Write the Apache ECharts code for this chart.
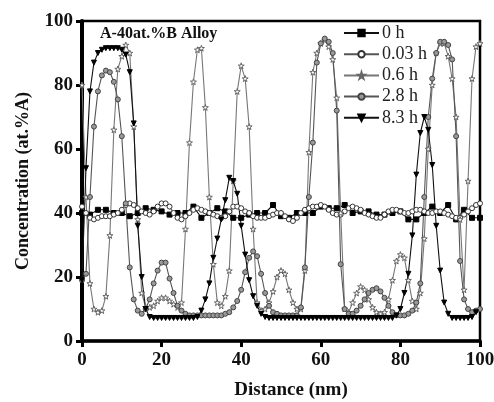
<!DOCTYPE html>
<html><head><meta charset="utf-8">
<script src="https://cdn.jsdelivr.net/npm/echarts@6/dist/echarts.min.js"></script>
<style>html,body{margin:0;padding:0;background:#fff}#c{width:494px;height:402px}</style>
</head><body><div id="c"></div>
<script>
// ---- data ----
const seriesNames = ['0 h', '0.03 h', '0.6 h', '2.8 h', '8.3 h'];
const xTicks = [0, 20, 40, 60, 80, 100];
const yTicks = [0, 20, 40, 60, 80, 100];
// distance grid for 0 h (every 2 nm)
const dist0h = [0,2,4,6,8,10,12,14,16,18,20,22,24,26,28,30,32,34,36,38,40,42,44,46,48,50,52,54,56,58,60,62,64,66,68,70,72,74,76,78,80,82,84,86,88,90,92,94,96,98,100];
const conc0h = [40,39.5,41,41,40,40,39,40,41.5,41,40.5,39.5,40,40,42,38.5,40,41.5,40.5,38.5,38.5,39.5,40,40,42.5,39,38.5,40,40,40,42,41.5,41.5,42.5,40,40.5,40.5,39.5,39.5,40,40.5,38,38,40,42,40,42.5,38,41,38.5,38.5];
// distance grid for other series (every 1 nm)
const dist = [0,1,2,3,4,5,6,7,8,9,10,11,12,13,14,15,16,17,18,19,20,21,22,23,24,25,26,27,28,29,30,31,32,33,34,35,36,37,38,39,40,41,42,43,44,45,46,47,48,49,50,51,52,53,54,55,56,57,58,59,60,61,62,63,64,65,66,67,68,69,70,71,72,73,74,75,76,77,78,79,80,81,82,83,84,85,86,87,88,89,90,91,92,93,94,95,96,97,98,99,100];
const conc003h = [42,40,38.5,38,38.5,39,39,39,39.5,40,41,42.5,43,42.5,41.5,40.5,40,39.5,40.5,42,43,43,42,40,38.5,38,39,40,41,41.5,41,40.5,40,39.5,39,38.5,39,40.5,42,42,41.5,40.5,40,39,38.5,38.5,38.5,39,39.5,40,40,39,38,37.5,38.5,40,41,41.5,42,42,42.5,42,41,40,39.5,39.5,40.5,41.5,42,41.5,41,40,39.5,39,38.5,38.5,39.5,40.5,41,41,40.5,40,40,40.5,41,41,40.5,40,40,40.5,40.5,40,39.5,39,38.5,38.5,39.5,40.5,41.5,42.5,43];
const conc06h = [80,45,18,10,9,9.5,14,33,66,85,89,92.5,90,67,38,15,10.5,10.5,11,12.5,13.5,13.5,12.5,11.5,10.5,12,35,62,81,91,91.5,73,45,24,12,11,14,22,50,78,86,82,67,35,12,9.5,10,12,15.5,20,22,21,16,12,10,10,22,59,84,90,93,94,92,88,76,40,10,9,12,15,17,16,13,10.5,9,8.5,9,13,19,25,27,26,19,12.5,10,15,32,60,80,90,93,93,89,82,70,38,16,50,82,92,93];
const conc28h = [19,21,45,67,78,83,84.5,84,81,75.5,64,43,23,13,9.5,8.5,10,13,18,22,24.5,24.5,19.5,15,11,9.5,8.5,8,8,8,8,8,8,8,8,8,8.5,9,10.5,12.5,16,21.5,26,28,26.5,21,15,11,9,8.5,8,8,8,8,8,10.5,23,45,62,87,93,94.5,93.5,90,72,24,10,8.5,8.5,9.5,11,13,15,16,16.5,15.5,13.5,11,9,8,8,8,8.5,9.5,12,18,45,70,82,90,93.5,93.5,92.5,88,64,25,13,10,9,9.5,10];
const conc83h = [19,54,78,87,90,91,91.5,91.5,91.5,91.5,91,89.5,84,68,36,20,10,7.5,7.2,7.2,7.2,7.2,7.2,7.2,7.2,7.2,7.2,7.2,7.2,7.5,9.5,13,18,26,32,38,44,51,50,46,36,27,19,14,11,8.5,7.5,7.2,7.2,7.2,7.2,7.2,7.2,7.2,7.2,7.2,7.2,7.2,7.2,7.2,7.2,7.2,7.2,7.2,7.2,7.2,7.2,7.2,7.2,7.2,7.2,7.2,7.2,7.2,7.2,7.2,7.2,7.2,7.2,8,10,15,21,33,52,65,70,66,55,36,22,12,8.5,7.2,7.2,7.2,7.2,7.2,7.5,9];
const annotation = 'A-40at.%B Alloy';
const xTitle = 'Distance (nm)';
const yTitle = 'Concentration (at.%A)';

// ---- chart ----
const pair = (xs, ys) => xs.map((x, i) => [x, ys[i]]);
const STAR = 'path://M50,0 L61,35 L98,35 L68,57 L79,91 L50,70 L21,91 L32,57 L2,35 L39,35 Z';
const serif = '"Liberation Serif", "DejaVu Serif", serif';

const chart = echarts.init(document.getElementById('c'), null, {renderer: 'canvas'});
const mk = (name, data, sym, size, fill, stroke, lineColor, extra) => Object.assign({
  name, type: 'line', data, symbol: sym, symbolSize: size, showSymbol: true,
  lineStyle: {color: lineColor, width: 1.1},
  itemStyle: {color: fill, borderColor: stroke, borderWidth: 1},
  emphasis: {disabled: true}, animation: false, z: 3
}, extra || {});

chart.setOption({
  animation: false,
  backgroundColor: '#fff',
  grid: {left: 82, right: 14, top: 21, bottom: 61, containLabel: false, outerBoundsMode: 'none',
    show: true, borderColor: '#000', borderWidth: 2.5, backgroundColor: 'transparent'},
  title: {text: annotation, left: 95, top: 21, textStyle: {fontFamily: serif, fontWeight: 'bold', fontSize: 16, color: '#111'}},
  legend: {
    orient: 'vertical', left: 338, top: 19, itemWidth: 35, itemHeight: 8, itemGap: 3.2,
    data: seriesNames,
    textStyle: {fontFamily: serif, fontSize: 18, color: '#222', padding: [0, 0, 0, -2], lineHeight: 18}
  },
  xAxis: {
    type: 'value', min: 0, max: 100, interval: 20,
    name: xTitle, nameLocation: 'middle', nameGap: 40,
    nameTextStyle: {fontFamily: serif, fontWeight: 'bold', fontSize: 19, color: '#111', padding: [0, 0, 0, 20]},
    axisLine: {show: true, lineStyle: {color: '#000', width: 3.5}},
    axisTick: {show: true, inside: false, length: 6, lineStyle: {color: '#000', width: 3}},
    axisLabel: {margin: 10, fontFamily: serif, fontWeight: 'bold', fontSize: 19, color: '#111',
      formatter: v => xTicks.includes(v) ? String(v) : ''},
    splitLine: {show: false}
  },
  yAxis: {
    type: 'value', min: 0, max: 100, interval: 20,
    name: yTitle, nameLocation: 'middle', nameGap: 50, nameRotate: 90,
    nameTextStyle: {fontFamily: serif, fontWeight: 'bold', fontSize: 18, color: '#111'},
    axisLine: {show: true, lineStyle: {color: '#000', width: 4}},
    axisTick: {show: true, inside: false, length: 6, lineStyle: {color: '#000', width: 3}},
    axisLabel: {margin: 9, fontFamily: serif, fontWeight: 'bold', fontSize: 19, color: '#111',
      formatter: v => yTicks.includes(v) ? String(v) : ''},
    splitLine: {show: false}
  },
  series: [
    mk(seriesNames[0], pair(dist0h, conc0h), 'rect', 5, '#000', '#000', '#111'),
    mk(seriesNames[1], pair(dist, conc003h), 'circle', 5, '#fff', '#333', '#555'),
    mk(seriesNames[2], pair(dist, conc06h), STAR, 6, '#fff', '#666', '#777'),
    mk(seriesNames[3], pair(dist, conc28h), 'circle', 5, '#999', '#444', '#555'),
    mk(seriesNames[4], pair(dist, conc83h), 'triangle', 5, '#000', '#000', '#111', {symbolRotate: 180})
  ]
});
</script></body></html>
